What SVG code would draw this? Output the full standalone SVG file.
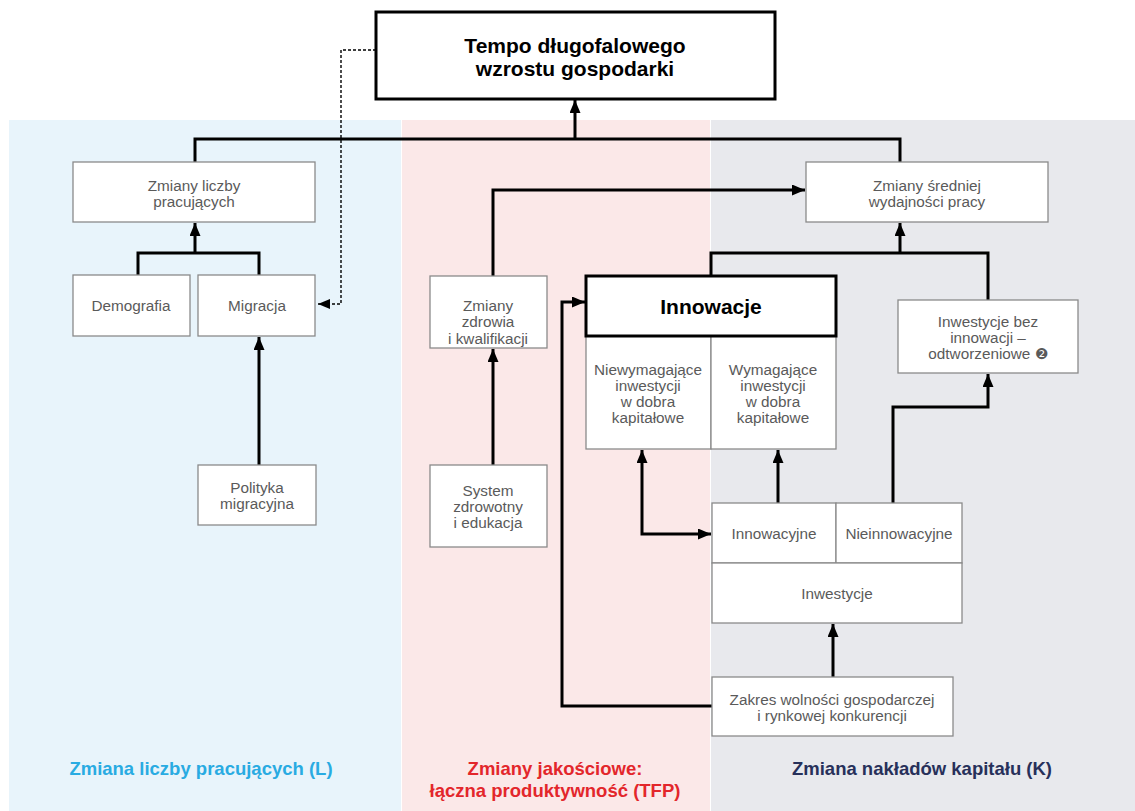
<svg xmlns="http://www.w3.org/2000/svg" width="1135" height="811" viewBox="0 0 1135 811">
<style>
.n{fill:#fff;stroke:#8a8a8a;stroke-width:1.3}
.b{fill:#fff;stroke:#000;stroke-width:3}
.t{font-family:"Liberation Sans",Arial,sans-serif;font-size:15.3px;fill:#5a5a5a;text-anchor:middle}
.tb{font-family:"Liberation Sans",Arial,sans-serif;font-weight:bold;fill:#000;text-anchor:middle}
.lab{font-family:"Liberation Sans",Arial,sans-serif;font-weight:bold;font-size:18.5px;text-anchor:middle}
.c{fill:none;stroke:#000;stroke-width:3}
.a{marker-end:url(#arr)}
.d{fill:none;stroke:#000;stroke-width:1.4;stroke-dasharray:3 2;marker-end:url(#arrs)}
</style>
<defs>
<marker id="arr" viewBox="0 0 13 11" markerWidth="13" markerHeight="11" refX="13" refY="5.5" orient="auto-start-reverse" markerUnits="userSpaceOnUse">
<path d="M0,0 L13,5.5 L0,11 z" fill="#000"/>
</marker>
<marker id="arrs" viewBox="0 0 12 10" markerWidth="12" markerHeight="10" refX="12" refY="5" orient="auto" markerUnits="userSpaceOnUse">
<path d="M0,0 L12,5 L0,10 z" fill="#000"/>
</marker>
</defs>
<rect width="1135" height="811" fill="#fff"/>
<g id="panels">
<rect x="9" y="120" width="392" height="691" fill="#e8f4fb"/>
<rect x="402" y="120" width="308" height="691" fill="#fbe8e8"/>
<rect x="711" y="120" width="424" height="691" fill="#e8e9ed"/>
</g>
<g id="connectors">
<path class="c" d="M195,162 V139 H900 V162"/>
<path class="c a" d="M575,139 V100"/>
<path class="d" d="M376,50 H341 V304 H318"/>
<path class="c" d="M138,275 V253 H259 V275"/>
<path class="c a" d="M195,253 V223"/>
<path class="c a" d="M259,465 V337"/>
<path class="c a" d="M493,465 V349"/>
<path class="c a" d="M493,276 V190 H805"/>
<path class="c" d="M711,276 V253 H988 V300"/>
<path class="c a" d="M900,253 V223"/>
<path class="c a" d="M833,677 V624"/>
<path class="c a" d="M712,706 H562 V302 H585"/>
<path class="c a" d="M778,503 V450"/>
<path class="c a" d="M893,503 V407 H988 V374"/>
<path class="c a" d="M642,450 V534 H711" marker-start="url(#arr)"/>
</g>
<g id="top">
<rect class="b" x="376" y="12" width="399" height="87"/>
<text class="tb" font-size="21" x="575" y="53">Tempo długofalowego</text>
<text class="tb" font-size="21" x="575" y="76">wzrostu gospodarki</text>
</g>
<g id="liczba">
<rect class="n" x="73" y="162" width="242" height="60"/>
<text class="t" x="194" y="191">Zmiany liczby</text>
<text class="t" x="194" y="207">pracujących</text>
</g>
<g id="demografia">
<rect class="n" x="73" y="275" width="117" height="61"/>
<text class="t" x="131" y="311">Demografia</text>
</g>
<g id="migracja">
<rect class="n" x="198" y="275" width="117" height="61"/>
<text class="t" x="257" y="311">Migracja</text>
</g>
<g id="polityka">
<rect class="n" x="198" y="465" width="118" height="60"/>
<text class="t" x="257" y="493">Polityka</text>
<text class="t" x="257" y="509">migracyjna</text>
</g>
<g id="zdrowie">
<rect class="n" x="430" y="276" width="117" height="72"/>
<text class="t" x="488" y="311">Zmiany</text>
<text class="t" x="488" y="327">zdrowia</text>
<text class="t" x="488" y="344">i kwalifikacji</text>
</g>
<g id="system">
<rect class="n" x="430" y="465" width="117" height="82"/>
<text class="t" x="488" y="496">System</text>
<text class="t" x="488" y="512">zdrowotny</text>
<text class="t" x="488" y="528">i edukacja</text>
</g>
<g id="wydajnosc">
<rect class="n" x="806" y="162" width="242" height="60"/>
<text class="t" x="927" y="191">Zmiany średniej</text>
<text class="t" x="927" y="207">wydajności pracy</text>
</g>
<g id="niewymagajace">
<rect class="n" x="586" y="336" width="125" height="113"/>
<text class="t" x="648" y="375">Niewymagające</text>
<text class="t" x="648" y="391">inwestycji</text>
<text class="t" x="648" y="407">w dobra</text>
<text class="t" x="648" y="423">kapitałowe</text>
</g>
<g id="wymagajace">
<rect class="n" x="711" y="336" width="125" height="113"/>
<text class="t" x="773" y="375">Wymagające</text>
<text class="t" x="773" y="391">inwestycji</text>
<text class="t" x="773" y="407">w dobra</text>
<text class="t" x="773" y="423">kapitałowe</text>
</g>
<g id="innowacje">
<rect class="b" x="586" y="276" width="250" height="60"/>
<text class="tb" font-size="21" x="711" y="314">Innowacje</text>
</g>
<g id="bezinnowacji">
<rect class="n" x="898" y="300" width="180" height="73"/>
<text class="t" x="988" y="327">Inwestycje bez</text>
<text class="t" x="988" y="343">innowacji –</text>
<text class="t" x="988" y="359">odtworzeniowe ❷</text>
</g>
<g id="innowacyjne">
<rect class="n" x="712" y="503" width="124" height="60"/>
<text class="t" x="774" y="539">Innowacyjne</text>
</g>
<g id="nieinnowacyjne">
<rect class="n" x="836" y="503" width="126" height="60"/>
<text class="t" x="899" y="539">Nieinnowacyjne</text>
</g>
<g id="inwestycje">
<rect class="n" x="712" y="563" width="250" height="60"/>
<text class="t" x="837" y="599">Inwestycje</text>
</g>
<g id="zakres">
<rect class="n" x="712" y="677" width="241" height="59"/>
<text class="t" x="832" y="705">Zakres wolności gospodarczej</text>
<text class="t" x="832" y="721">i rynkowej konkurencji</text>
</g>
<g id="labels">
<text class="lab" fill="#29abe2" x="201" y="775">Zmiana liczby pracujących (L)</text>
<text class="lab" fill="#e3262b" x="555" y="775">Zmiany jakościowe:</text>
<text class="lab" fill="#e3262b" x="555" y="797">łączna produktywność (TFP)</text>
<text class="lab" fill="#27305a" x="922" y="775">Zmiana nakładów kapitału (K)</text>
</g>
</svg>
